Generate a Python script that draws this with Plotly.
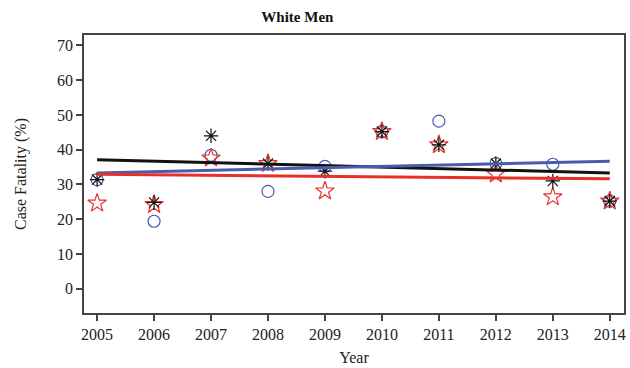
import plotly.graph_objects as go

years = [2005, 2006, 2007, 2008, 2009, 2010, 2011, 2012, 2013, 2014]
series_black = [31.4, 24.8, 44.0, 36.0, 33.8, 45.2, 41.4, 36.0, 31.0, 25.2]
series_blue = [31.4, 19.4, 38.4, 28.0, 35.2, 45.2, 48.2, 36.0, 35.8, 25.2]
series_red = [24.6, 24.2, 37.6, 36.0, 28.1, 45.2, 41.4, 33.0, 26.4, 25.2]

trend_years = [2005, 2014]
trend_black = [37.1, 33.3]
trend_blue = [33.3, 36.7]
trend_red = [32.9, 31.6]

BLACK = "#111111"
BLUE = "#4a5cb2"
RED = "#e8302a"
serif = "Liberation Serif, Times New Roman, serif"

fig = go.Figure()

fig.add_trace(go.Scatter(x=years, y=series_blue, mode="markers",
                         marker=dict(symbol="circle-open", size=12, color=BLUE, line=dict(width=1.2))))
fig.add_trace(go.Scatter(x=years, y=series_red, mode="markers",
                         marker=dict(symbol="star-open", size=14, color=RED, line=dict(width=1.2))))
fig.add_trace(go.Scatter(x=years, y=series_black, mode="markers",
                         marker=dict(symbol="asterisk-open", size=12, color=BLACK,
                                     line=dict(width=1.2, color=BLACK))))

fig.add_trace(go.Scatter(x=trend_years, y=trend_black, mode="lines", line=dict(color=BLACK, width=3)))
fig.add_trace(go.Scatter(x=trend_years, y=trend_blue, mode="lines", line=dict(color=BLUE, width=3)))
fig.add_trace(go.Scatter(x=trend_years, y=trend_red, mode="lines", line=dict(color=RED, width=3)))

axis_common = dict(
    showline=True, linecolor="#444444", linewidth=1.5, mirror=True,
    ticks="outside", ticklen=6, tickcolor="#444444", tickwidth=1.5,
    showgrid=False, zeroline=False,
    tickfont=dict(family=serif, size=16, color="#222222"),
)

fig.update_layout(
    width=630, height=368,
    margin=dict(l=84, r=4, t=35, b=46),
    paper_bgcolor="white", plot_bgcolor="white",
    showlegend=False,
    title=dict(text="<b>White Men</b>", xref="container", x=0.472, xanchor="center",
               yref="container", y=0.955, yanchor="middle",
               font=dict(family=serif, size=15, color="#111111")),
    xaxis=dict(range=[2004.77, 2014.25], tickmode="array", tickvals=years,
               ticktext=[str(y) for y in years],
               title=dict(text="Year", font=dict(family=serif, size=16, color="#222222"), standoff=10),
               **axis_common),
    yaxis=dict(range=[-7, 73], tickmode="array", tickvals=[0, 10, 20, 30, 40, 50, 60, 70],
               title=dict(text="Case Fatality (%)", font=dict(family=serif, size=16, color="#222222"),
                          standoff=26),
               **axis_common),
)

fig.write_html("out.html")
